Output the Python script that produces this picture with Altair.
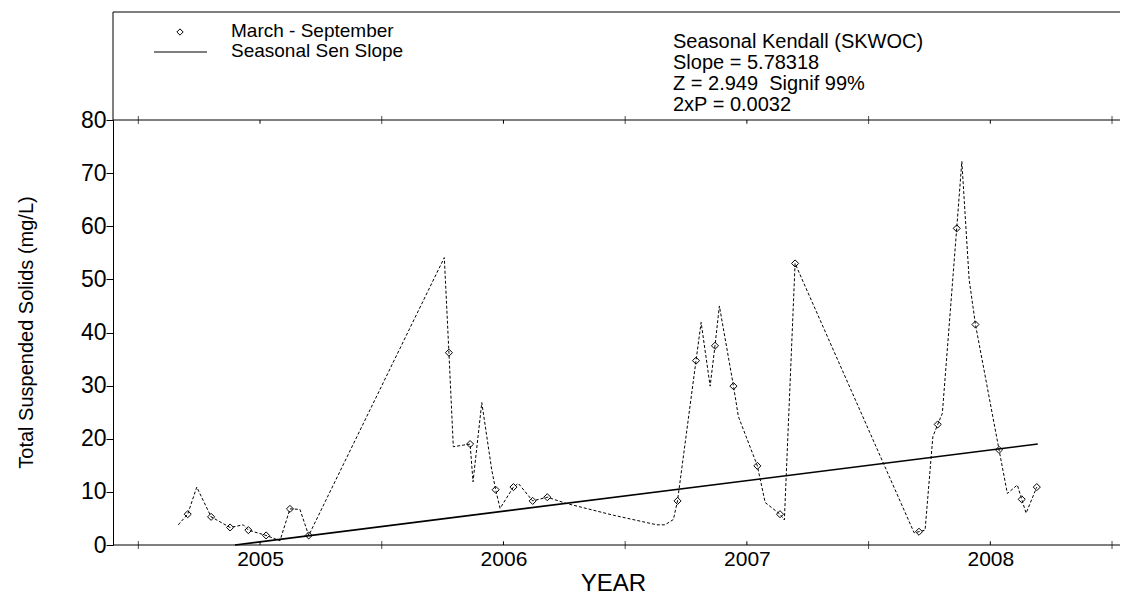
import altair as alt
import pandas as pd

# ---- data ----
years = [2005.164, 2005.203, 2005.240, 2005.299, 2005.377, 2005.431, 2005.452, 2005.525,
         2005.582, 2005.623, 2005.664, 2005.700, 2006.257, 2006.276, 2006.294, 2006.335,
         2006.363, 2006.375, 2006.411, 2006.452, 2006.468, 2006.486, 2006.541, 2006.561,
         2006.620, 2006.680, 2006.760, 2006.952, 2007.130, 2007.164, 2007.198, 2007.215,
         2007.291, 2007.312, 2007.349, 2007.369, 2007.387, 2007.445, 2007.465, 2007.543,
         2007.575, 2007.636, 2007.654, 2007.698, 2008.187, 2008.207, 2008.232, 2008.264,
         2008.284, 2008.303, 2008.362, 2008.383, 2008.413, 2008.439, 2008.536, 2008.570,
         2008.611, 2008.629, 2008.647, 2008.691]
tss = [3.8, 5.8, 10.9, 5.3, 3.3, 3.8, 2.8, 1.8,
       0.8, 6.8, 6.7, 1.8, 54.1, 36.2, 18.5, 18.8,
       19.0, 11.9, 26.8, 14.1, 10.4, 6.9, 10.9, 11.6,
       8.3, 9.0, 7.8, 5.6, 3.8, 3.8, 4.8, 8.3,
       34.7, 41.9, 29.9, 37.5, 45.0, 29.9, 24.2, 14.9,
       8.0, 5.8, 4.7, 53.0, 2.3, 2.5, 2.8, 20.4,
       22.7, 24.8, 59.6, 72.2, 50.0, 41.5, 17.9, 9.7,
       11.3, 8.6, 6.0, 10.9]
is_obs = [0, 1, 0, 1, 1, 0, 1, 1,
          0, 1, 0, 1, 0, 1, 0, 0,
          1, 0, 0, 0, 1, 0, 1, 0,
          1, 1, 0, 0, 0, 0, 0, 1,
          1, 0, 0, 1, 0, 1, 0, 1,
          0, 1, 0, 1, 0, 1, 0, 0,
          1, 0, 1, 0, 0, 1, 1, 0,
          0, 1, 0, 1]

sen_years = [2005.397, 2008.695]
sen_values = [0.0, 19.0]

x_domain = [2004.896, 2009.004]
x_line_end = 2009.07
y_domain = [0, 80]
boundary_ticks = [2005, 2006, 2007, 2008, 2009]
label_ticks = [2005.5, 2006.5, 2007.5, 2008.5]
y_ticks = list(range(0, 85, 5))

legend_labels = ["March - September", "Seasonal Sen Slope"]
stats_lines = ["Seasonal Kendall (SKWOC)", "Slope = 5.78318",
               "Z = 2.949\u00a0 Signif 99%", "2xP = 0.0032"]

FONT = "Liberation Sans"

df = pd.DataFrame({"year": years, "tss": tss, "obs": is_obs})
sen_df = pd.DataFrame({"year": sen_years, "tss": sen_values})

xs = alt.Scale(domain=x_domain, nice=False, zero=False)
ys = alt.Scale(domain=y_domain, nice=False, zero=False)

x_axis = alt.Axis(values=label_ticks, labelExpr="floor(datum.value) + ''", ticks=False,
                  domain=False, grid=False, labelFont=FONT, labelFontSize=21,
                  labelColor="black", labelPadding=3, title="YEAR", titleFont=FONT,
                  titleFontSize=24, titleFontWeight="normal", titleColor="black",
                  titleBaseline="alphabetic", titleY=45, labelOverlap=False)
y_axis = alt.Axis(values=y_ticks,
                  labelExpr="datum.value % 10 === 0 ? datum.value + '' : ''",
                  tickSize={"condition": {"test": "datum.value % 10 === 0", "value": 7}, "value": 4},
                  tickColor="black", domainColor="black", grid=False,
                  labelFont=FONT, labelFontSize=23, labelColor="black", labelPadding=0,
                  labelOverlap=False,
                  title="Total Suspended Solids (mg/L)", titleFont=FONT, titleFontSize=20,
                  titleFontWeight="normal", titleColor="black", titleAngle=270,
                  titleBaseline="bottom", titleX=-77, titleY=212)

base = alt.Chart(df)
dashed = base.mark_line(color="black", strokeWidth=1, strokeDash=[3, 2]).encode(
    x=alt.X("year:Q", scale=xs, axis=x_axis),
    y=alt.Y("tss:Q", scale=ys, axis=y_axis),
)
diamonds = base.transform_filter("datum.obs == 1").mark_point(
    shape="diamond", filled=False, color="black", size=50, strokeWidth=1, opacity=1
).encode(x="year:Q", y="tss:Q")

sen = alt.Chart(sen_df).mark_line(color="black", strokeWidth=1.6).encode(x="year:Q", y="tss:Q")

bt = pd.DataFrame({"year": boundary_ticks})
lt = pd.DataFrame({"year": label_ticks})
one = pd.DataFrame({"k": [0]})

ticks_bottom = alt.Chart(bt).mark_tick(orient="vertical", size=8, thickness=1, color="black").encode(
    x="year:Q", y=alt.datum(0))
ticks_top = alt.Chart(bt).mark_tick(orient="vertical", size=8, thickness=1, color="black").encode(
    x="year:Q", y=alt.datum(80))
mid_bottom = alt.Chart(lt).mark_rule(color="black", strokeWidth=1).encode(
    x="year:Q", y=alt.datum(0), y2=alt.datum(0.7))
mid_top = alt.Chart(lt).mark_rule(color="black", strokeWidth=1).encode(
    x="year:Q", y=alt.datum(80), y2=alt.datum(79.3))

bottom_line = alt.Chart(one).mark_rule(color="black", strokeWidth=1.2).encode(
    x=alt.datum(x_domain[0]), x2=alt.datum(x_line_end), y=alt.datum(0))
top_line = alt.Chart(one).mark_rule(color="black", strokeWidth=1).encode(
    x=alt.datum(x_domain[0]), x2=alt.datum(x_line_end), y=alt.datum(80))
frame_top = alt.Chart(one).mark_rule(color="black", strokeWidth=1).encode(
    x=alt.datum(x_domain[0]), x2=alt.datum(x_line_end), y=alt.value(-108))
frame_left = alt.Chart(one).mark_rule(color="black", strokeWidth=1).encode(
    x=alt.datum(x_domain[0]), y=alt.value(-108), y2=alt.value(0))

leg_diamond = alt.Chart(one).mark_point(shape="diamond", filled=False, color="black",
                                        size=40, strokeWidth=1, opacity=1).encode(
    x=alt.value(67), y=alt.value(-88))
leg_line = alt.Chart(one).mark_rule(color="black", strokeWidth=1.2).encode(
    x=alt.value(41), x2=alt.value(94), y=alt.value(-68))

texts = []
for i, t in enumerate(legend_labels):
    texts.append(alt.Chart(one).mark_text(text=t, align="left", baseline="alphabetic",
                                          font=FONT, fontSize=19, color="black").encode(
        x=alt.value(118), y=alt.value(-83 + i * 20)))
for i, t in enumerate(stats_lines):
    texts.append(alt.Chart(one).mark_text(text=t, align="left", baseline="alphabetic",
                                          font=FONT, fontSize=20, color="black").encode(
        x=alt.value(560), y=alt.value(-72.5 + i * 21.2)))

chart = alt.layer(
    dashed, sen, diamonds, ticks_bottom, ticks_top, mid_bottom, mid_top,
    bottom_line, top_line, frame_top, frame_left, leg_diamond, leg_line, *texts
).properties(
    width=1000, height=425,
    padding={"left": 105, "top": 112, "right": 7, "bottom": 50},
    autosize="none",
).configure_view(stroke=None)

chart.save("out.html", embed_options={"renderer": "svg", "actions": False})
